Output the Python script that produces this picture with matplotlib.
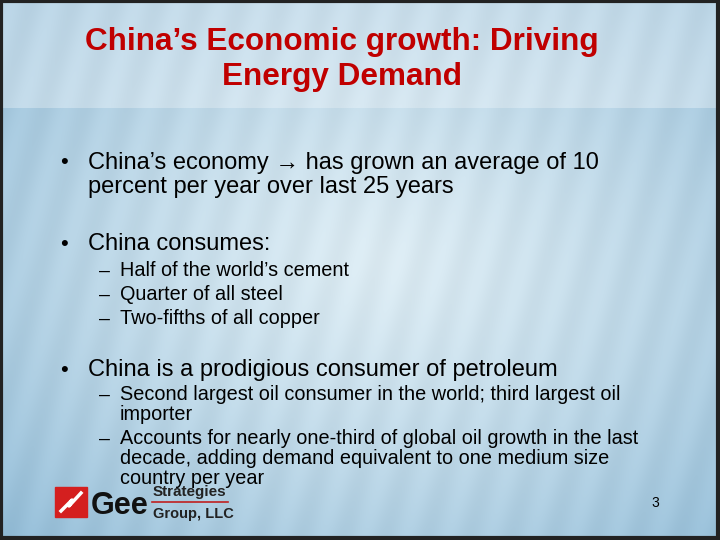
import matplotlib
matplotlib.use("Agg")
import matplotlib.pyplot as plt
import numpy as np
from matplotlib.patches import Rectangle

title_lines = ["China’s Economic growth: Driving", "Energy Demand"]
bullets = [
    (0, 163, "China’s economy → has grown an average of 10"),
    (1, 187, "percent per year over last 25 years"),
    (0, 244, "China consumes:"),
    (2, 271, "Half of the world’s cement"),
    (2, 295, "Quarter of all steel"),
    (2, 319, "Two-fifths of all copper"),
    (0, 370, "China is a prodigious consumer of petroleum"),
    (2, 395, "Second largest oil consumer in the world; third largest oil"),
    (3, 415, "importer"),
    (2, 439, "Accounts for nearly one-third of global oil growth in the last"),
    (3, 459, "decade, adding demand equivalent to one medium size"),
    (3, 478, "country per year"),
]
page = "3"

W, H = 720, 540
fig = plt.figure(figsize=(7.2, 5.4), dpi=100)
ax = fig.add_axes([0, 0, 1, 1])
ax.set_xlim(0, W); ax.set_ylim(H, 0); ax.axis("off")

yy, xx = np.mgrid[0:H, 0:W]
r = np.sqrt(((xx - 380) / 560) ** 2 + ((yy - 260) / 420) ** 2)
light = np.array([0.86, 0.92, 0.95]); blue = np.array([0.55, 0.72, 0.83])
t = np.clip(r, 0, 1)[..., None] ** 1.3
img = light * (1 - t) + blue * t
top = (yy < 108)[..., None]
img = np.where(top, img * 0.6 + np.array([0.92, 0.95, 0.97]) * 0.4, img)
streak = 0.015 * np.sin((xx * 0.9 + yy * 0.25) / 6.0)[..., None]
img = np.clip(img + streak, 0, 1)
ax.imshow(img, extent=[0, W, H, 0], zorder=0)

ax.add_patch(Rectangle((1, 1), W - 3, H - 3, fill=False, ec="#222222", lw=3, zorder=5))

red = "#C00000"
fs = "Liberation Sans"
ax.text(342, 42, title_lines[0], color=red, fontsize=22.7, fontweight="bold", family=fs, ha="center", va="center", zorder=3)
ax.text(342, 77, title_lines[1], color=red, fontsize=22.7, fontweight="bold", family=fs, ha="center", va="center", zorder=3)

for lvl, y, s in bullets:
    if lvl == 0:
        ax.text(60, y, "•", fontsize=16, family=fs, va="center", zorder=3)
        ax.text(88, y, s, fontsize=17, family=fs, va="center", zorder=3)
    elif lvl == 1:
        ax.text(88, y, s, fontsize=17, family=fs, va="center", zorder=3)
    elif lvl == 2:
        ax.text(99, y, "–", fontsize=14, family=fs, va="center", zorder=3)
        ax.text(120, y, s, fontsize=14.3, family=fs, va="center", zorder=3)
    else:
        ax.text(120, y, s, fontsize=14.3, family=fs, va="center", zorder=3)

ax.text(655, 503, page, fontsize=10, family=fs, ha="center", va="center", zorder=3)

# logo
ax.add_patch(Rectangle((55, 487), 32, 30, color="#d41f1f", zorder=3))
ax.plot([61, 72, 69, 81], [511, 500, 506, 493], color="white", lw=2.5, zorder=4)
ax.text(91, 506, "Gee", fontsize=22, fontweight="bold", family=fs, color="#111111", va="center", zorder=3)
ax.text(153, 492, "Strategies", fontsize=11, fontweight="bold", family=fs, color="#222222", va="center", zorder=3)
ax.plot([152, 228], [502, 502], color="#c02020", lw=1.2, zorder=3)
ax.text(153, 514, "Group, LLC", fontsize=10.5, fontweight="bold", family=fs, color="#222222", va="center", zorder=3)

fig.savefig("out.png", dpi=100)
